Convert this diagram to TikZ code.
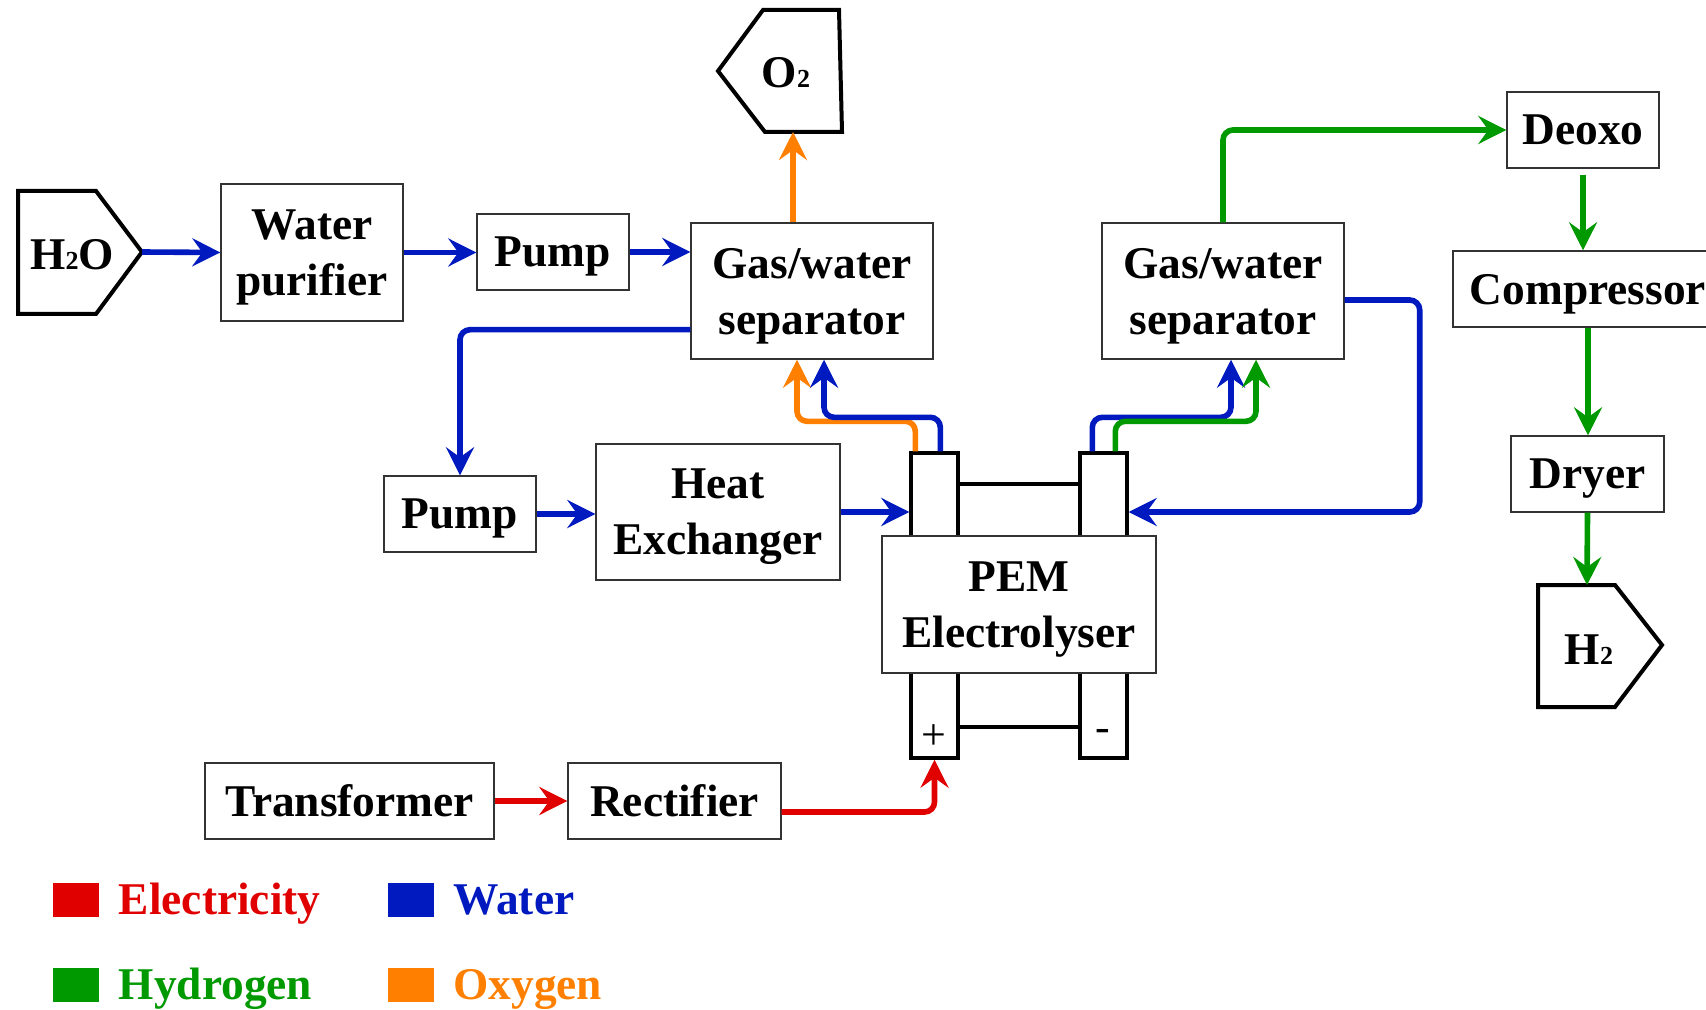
\documentclass[tikz,border=0pt]{standalone}
\usepackage{fontspec}
\setmainfont{Liberation Serif}
\usetikzlibrary{arrows.meta}

\definecolor{cElec}{RGB}{224,0,0}
\definecolor{cWater}{RGB}{0,26,191}
\definecolor{cHydro}{RGB}{0,153,0}
\definecolor{cOxy}{RGB}{255,128,0}

\newcommand{\labelfont}{\fontsize{22.7}{28}\selectfont\bfseries}
\newcommand{\subtwo}{{\fontsize{13}{13}\selectfont 2}}

\tikzset{
  unit/.style={draw=black!80, line width=0.7pt, fill=white, align=center,
    inner sep=0pt, text depth=0pt, font=\labelfont},
  cellbox/.style={draw, line width=1.7pt, fill=white, minimum width=23.5pt,
    minimum height=152.5pt, inner sep=0pt},
  tank/.style={line width=2pt, line join=miter},
  flow/.style={line width=2.8pt, rounded corners=5pt,
    -{Stealth[length=14pt,width=14pt,inset=5pt]}},
  elecflow/.style={flow, cElec},
  waterflow/.style={flow, cWater},
  hydroflow/.style={flow, cHydro},
  oxyflow/.style={flow, cOxy}
}

\begin{document}
\begin{tikzpicture}[x=0.5pt, y=-0.5pt]
    \useasboundingbox (0,0) rectangle (1706,1010);

    % Feed and product tanks
    \draw[tank] (18,191) -- (96,191) -- (142,252) -- (96,314) -- (18,314) -- cycle;
    \node[font=\labelfont, text depth=0pt] (h2o) at (72,254.5) {H\subtwo O};
    \coordinate (h2oTip) at (142,252);
    \draw[tank] (763,10) -- (839,10) -- (842,132) -- (765,132) -- (718,71) -- cycle;
    \node[font=\labelfont, text depth=0pt] (o2) at (786,72) {O\subtwo};
    \coordinate (o2base) at (793,132);
    \draw[tank] (1538,585) -- (1615,585) -- (1662,645) -- (1615,707) -- (1538,707) -- cycle;
    \node[font=\labelfont, text depth=0pt] (h2) at (1589,650) {H\subtwo};
    \coordinate (h2top) at (1587,585);

    % Units
    \node[unit, minimum width=91pt, minimum height=68.5pt] (purifier) at (312,252.5) {Water\\purifier};
    \node[unit, minimum width=76pt, minimum height=38pt] (pump1) at (553,252) {Pump};
    \node[unit, minimum width=121pt, minimum height=68pt] (sepA) at (812,291) {Gas/water\\separator};
    \node[unit, minimum width=121pt, minimum height=68pt] (sepB) at (1223,291) {Gas/water\\separator};
    \node[unit, minimum width=76pt, minimum height=38pt] (deoxo) at (1583,130) {Deoxo};
    \node[unit, minimum width=135pt, minimum height=38pt] (compressor) at (1588,289) {Compressor};
    \node[unit, minimum width=76.5pt, minimum height=38pt] (dryer) at (1587.5,474) {Dryer};
    \node[unit, minimum width=76pt, minimum height=38pt] (pump2) at (460,514) {Pump};
    \node[unit, minimum width=122pt, minimum height=68pt] (hx) at (718,512) {Heat\\Exchanger};
    \node[unit, minimum width=144.5pt, minimum height=38pt] (transformer) at (349.5,801) {Transformer};
    \node[unit, minimum width=106.5pt, minimum height=38pt] (rectifier) at (674.5,801) {Rectifier};

    % Electrolyser cell
    \node[cellbox] (anode) at (934.5,605.5) {};
    \node[cellbox] (cathode) at (1103.5,605.5) {};
    \draw[line width=1.7pt] (anode.east |- 0,484) -- (cathode.west |- 0,484);
    \draw[line width=1.7pt] (anode.east |- 0,727) -- (cathode.west |- 0,727);
    \node[unit, minimum width=137pt, minimum height=68.5pt] (pem) at (1019,604.5) {PEM\\Electrolyser};
    \node[font=\fontsize{22}{22}\selectfont] (plus) at (934,737) {+};
    \node[font=\fontsize{22}{22}\selectfont] (minus) at (1103,735) {-};

    % Water
    \draw[waterflow] (h2oTip) -- (purifier.west);
    \draw[waterflow] (purifier.east) -- (purifier.east -| pump1.west);
    \draw[waterflow] (pump1.east) -- (pump1.east -| sepA.west);
    \draw[waterflow] ([yshift=15pt]sepA.south west) -| (pump2.north);
    \draw[waterflow] (pump2.east) -- (pump2.east -| hx.west);
    \draw[waterflow] (hx.east) -- (hx.east -| anode.west);
    \draw[waterflow] ([yshift=-4.5pt]sepB.east) -- ++(75,0) |- (hx.east -| cathode.east);

    % Anode side
    \draw[oxyflow] ([xshift=3pt]anode.north west) -- ++(0,-30) -| ([xshift=-7.5pt]sepA.south);
    \draw[waterflow] ([xshift=15.5pt]anode.north west) -- ++(0,-34) -| ([xshift=6pt]sepA.south);
    \draw[oxyflow] (sepA.north -| o2base) -- (o2base);

    % Cathode side
    \draw[waterflow] ([xshift=7pt]cathode.north west) -- ++(0,-34) -| ([xshift=4pt]sepB.south);
    \draw[hydroflow] ([xshift=18.5pt]cathode.north west) -- ++(0,-30) -| ([xshift=16.5pt]sepB.south);
    \draw[hydroflow] (sepB.north) |- (deoxo.west);
    \draw[hydroflow, shorten <=3pt] (deoxo.south) -- (deoxo.south |- compressor.north);
    \draw[hydroflow] (compressor.south) -- (compressor.south |- dryer.north);
    \draw[hydroflow] (dryer.south) -- (h2top);

    % Power supply
    \draw[elecflow] (transformer.east) -- (rectifier.west);
    \draw[elecflow] ([yshift=-5.5pt]rectifier.east) -| (anode.south);

    % Legend
    \foreach \col/\name/\x/\y in {cElec/Electricity/76/900, cWater/Water/410.5/900,
        cHydro/Hydrogen/76/985, cOxy/Oxygen/410.5/985}{
      \node[fill=\col, minimum width=23pt, minimum height=17pt, inner sep=0pt] (key\name) at (\x,\y) {};
      \node[anchor=base west, inner sep=0pt, text=\col, font=\labelfont] (label\name)
        at ([xshift=9.5pt, yshift=-7pt]key\name.east) {\name};
    }
\end{tikzpicture}
\end{document}
